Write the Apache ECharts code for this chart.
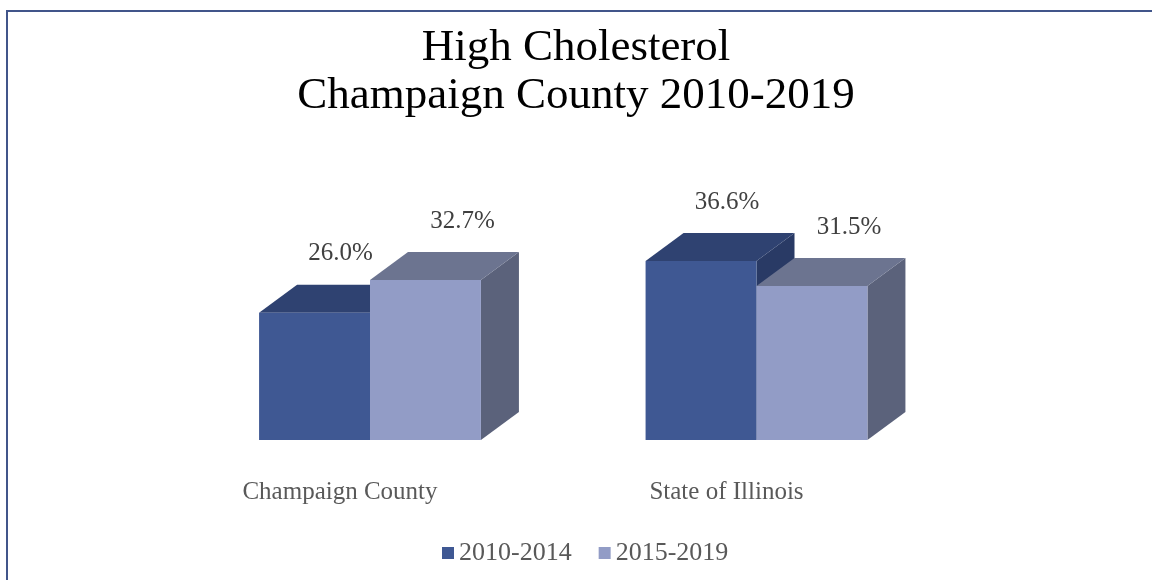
<!DOCTYPE html>
<html>
<head>
<meta charset="utf-8">
<title>High Cholesterol</title>
<script src="https://cdn.jsdelivr.net/npm/echarts@6/dist/echarts.min.js"></script>
<style>
  html, body { margin: 0; padding: 0; background: #ffffff; }
  #chart { width: 1152px; height: 580px; }
</style>
</head>
<body>
<div id="chart"></div>
<script>
// Prevalence of high cholesterol, by area and period (percent)
const categories = ['Champaign County', 'State of Illinois'];
const seriesNames = ['2010-2014', '2015-2019'];
const values2010 = [26.0, 36.6];
const values2015 = [32.7, 31.5];

const SERIF = '"Liberation Serif", "Times New Roman", serif';
const BAR_RATIO = 0.287;   // share of a category band taken by one bar
const DEPTH_X = 38;        // oblique depth of the 3D boxes, px
const DEPTH_Y = 28;

const palette = [
  { front: '#3f5893', top: '#2f4271', side: '#293a65' },
  { front: '#929cc6', top: '#6c7490', side: '#5b627b' }
];

// Draws one bar as an oblique box: side face, top face, front face, then its value label.
function cuboid(slot, labelShift) {
  const c = palette[slot];
  return function (params, api) {
    const value = api.value(1);
    const base = api.coord([api.value(0), 0]);
    const top = api.coord([api.value(0), value]);
    const band = api.size([1, 0])[0];
    const w = band * BAR_RATIO;
    const x0 = base[0] + (slot === 0 ? -w : 0);
    const x1 = x0 + w;
    const yb = base[1];
    const yt = top[1];
    return {
      type: 'group',
      children: [
        {
          type: 'polygon',
          shape: { points: [[x1, yt], [x1 + DEPTH_X, yt - DEPTH_Y], [x1 + DEPTH_X, yb - DEPTH_Y], [x1, yb]] },
          style: { fill: c.side }
        },
        {
          type: 'polygon',
          shape: { points: [[x0, yt], [x0 + DEPTH_X, yt - DEPTH_Y], [x1 + DEPTH_X, yt - DEPTH_Y], [x1, yt]] },
          style: { fill: c.top }
        },
        {
          type: 'rect',
          shape: { x: x0, y: yt, width: w, height: yb - yt },
          style: { fill: c.front }
        },
        {
          type: 'text',
          style: {
            text: value.toFixed(1) + '%',
            x: (x0 + x1) / 2 + labelShift,
            y: yt - 59,
            align: 'center',
            verticalAlign: 'middle',
            fontSize: 25,
            fontFamily: SERIF,
            fill: '#404040'
          }
        }
      ]
    };
  };
}

const chart = echarts.init(document.getElementById('chart'), null, { renderer: 'canvas' });

chart.setOption({
  backgroundColor: '#ffffff',
  animation: false,
  title: {
    text: 'High Cholesterol\nChampaign County 2010-2019',
    left: 'center',
    top: 19,
    textStyle: {
      fontFamily: SERIF,
      fontSize: 45,
      fontWeight: 'normal',
      lineHeight: 48,
      color: '#000000'
    }
  },
  legend: {
    data: seriesNames,
    left: 437,
    top: 535,
    icon: 'rect',
    itemWidth: 12,
    itemHeight: 12,
    itemGap: 27,
    textStyle: { fontFamily: SERIF, fontSize: 26, color: '#595959' }
  },
  graphic: [
    {
      type: 'rect',
      shape: { x: 7, y: 11, width: 1200, height: 620 },
      style: { fill: 'none', stroke: '#41558a', lineWidth: 2 },
      silent: true
    }
  ],
  grid: { left: 176.75, right: 202.25, top: 195.5, bottom: 140 },
  xAxis: {
    type: 'category',
    data: categories,
    axisLine: { show: false },
    axisTick: { show: false },
    axisLabel: {
      fontFamily: SERIF,
      fontSize: 25,
      color: '#595959',
      margin: 40,
      padding: [0, 60, 0, 0]
    }
  },
  yAxis: {
    type: 'value',
    min: 0,
    max: 50,
    show: false
  },
  series: [
    {
      name: seriesNames[0],
      type: 'custom',
      itemStyle: { color: palette[0].front },
      encode: { x: 0, y: 1 },
      data: values2010.map((v, i) => [i, v]),
      renderItem: cuboid(0, 26)
    },
    {
      name: seriesNames[1],
      type: 'custom',
      itemStyle: { color: palette[1].front },
      encode: { x: 0, y: 1 },
      data: values2015.map((v, i) => [i, v]),
      renderItem: cuboid(1, 37)
    }
  ]
});
</script>
</body>
</html>
